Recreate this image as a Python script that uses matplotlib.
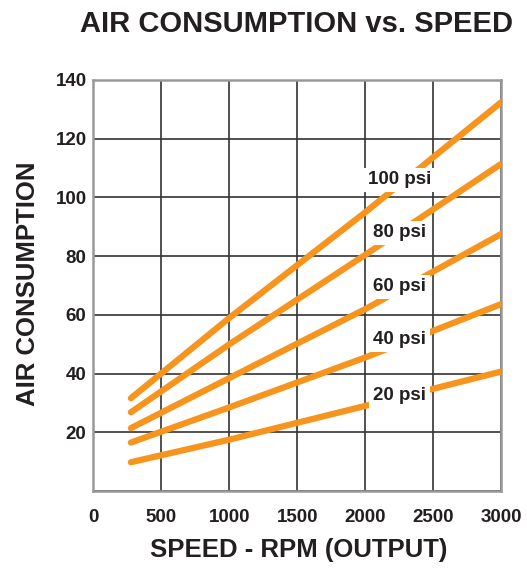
import matplotlib.pyplot as plt
from matplotlib import font_manager

# pick a narrow font for the tick labels if it is there
names = {f.name for f in font_manager.fontManager.ttflist}
narrow = "Liberation Sans Narrow" if "Liberation Sans Narrow" in names else "Liberation Sans"

# speed (rpm) sample points and air consumption
speed = [275, 1000, 2000, 3000]
psi_20 = [9.8, 17.5, 29.0, 40.7]
psi_40 = [16.5, 28.5, 45.5, 63.7]
psi_60 = [21.4, 38.5, 62.0, 87.6]
psi_80 = [26.8, 50.0, 80.5, 111.5]
psi_100 = [31.6, 59.0, 95.0, 132.5]

series = [psi_20, psi_40, psi_60, psi_80, psi_100]
labels = ["20 psi", "40 psi", "60 psi", "80 psi", "100 psi"]
label_y = [32.5, 51.5, 69.6, 88.0, 106.0]
label_x = 2250

orange = "#f7941d"

fig = plt.figure(figsize=(5.27, 5.68), dpi=100)
ax = fig.add_axes([0.1774, 0.1356, 0.7742, 0.7236])

for vals in series:
    ax.plot(speed, vals, color=orange, lw=4.5, solid_capstyle="round", zorder=3)

for lab, ly in zip(labels, label_y):
    ax.text(label_x, ly, lab, ha="center", va="center", fontsize=13.5,
            fontweight="bold", family=narrow, color="#231f20", zorder=4,
            bbox=dict(facecolor="white", edgecolor="none", pad=2.5))

ax.set_xlim(0, 3000)
ax.set_ylim(0, 140)
ax.set_xticks(range(0, 3001, 500))
ax.set_yticks(range(0, 141, 20))
ax.set_yticklabels([""] + [str(v) for v in range(20, 141, 20)])
ax.grid(True, color="#333333", lw=1.2, zorder=1)
ax.tick_params(length=0, labelsize=13.5, labelcolor="#231f20")
ax.tick_params(axis="x", pad=13)
ax.tick_params(axis="y", pad=5)
for t in ax.get_xticklabels() + ax.get_yticklabels():
    t.set_fontweight("bold")
    t.set_family(narrow)
for s in ax.spines.values():
    s.set_color("#999999")
    s.set_linewidth(1.8)

fig.text(0.562, 0.958, "AIR CONSUMPTION vs. SPEED", ha="center", va="center",
         fontsize=21, fontweight="bold", family="Liberation Sans", color="#231f20")
fig.text(0.567, 0.032, "SPEED - RPM (OUTPUT)", ha="center", va="center",
         fontsize=18.5, fontweight="bold", family="Liberation Sans", color="#231f20")
fig.text(0.053, 0.5, "AIR CONSUMPTION", ha="center", va="center", rotation=90,
         fontsize=18.5, fontweight="bold", family="Liberation Sans", color="#231f20")

fig.savefig("out.png", dpi=100)
